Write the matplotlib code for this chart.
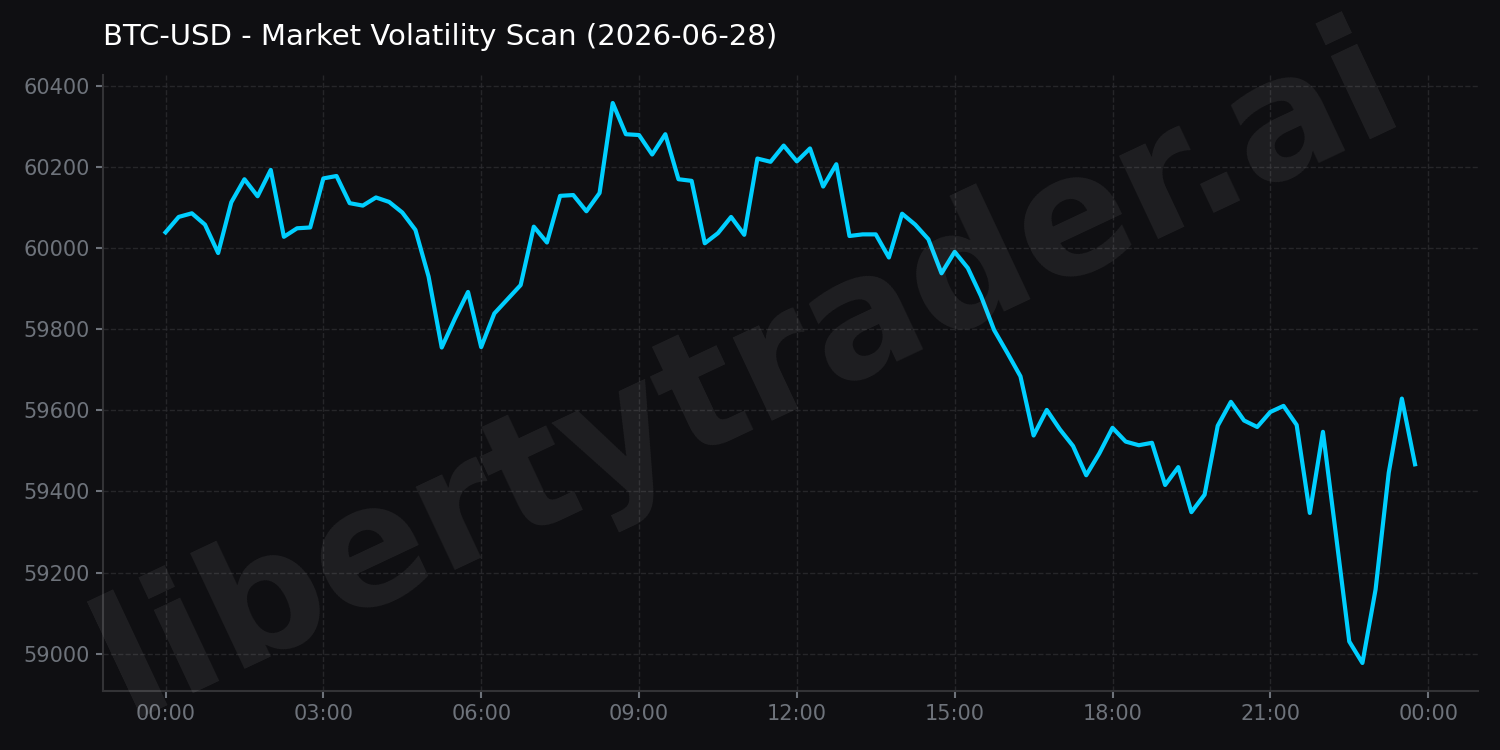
import matplotlib
matplotlib.use("Agg")
import matplotlib.pyplot as plt
import matplotlib.dates as mdates
import pandas as pd

# BTC-USD, 15 minute closes for 2026-06-28
start = "2026-06-28 00:00"
n_points = 96
prices = [
    60039, 60077, 60086, 60058, 59988, 60113, 60170, 60128, 60193, 60028,
    60049, 60051, 60172, 60178, 60111, 60105, 60125, 60114, 60088, 60045,
    59930, 59755, 59826, 59892, 59756, 59839, 59874, 59909, 60053, 60014,
    60129, 60131, 60091, 60136, 60358, 60281, 60279, 60231, 60281, 60170,
    60166, 60012, 60037, 60077, 60033, 60221, 60213, 60253, 60214, 60246,
    60152, 60207, 60030, 60034, 60034, 59977, 60085, 60058, 60022, 59938,
    59991, 59951, 59882, 59798, 59742, 59684, 59538, 59601, 59553, 59512,
    59440, 59494, 59557, 59523, 59514, 59520, 59416, 59460, 59349, 59392,
    59562, 59621, 59575, 59559, 59596, 59611, 59564, 59347, 59547, 59290,
    59030, 58977, 59158, 59446, 59629, 59467,
]
title = "BTC-USD - Market Volatility Scan (2026-06-28)"
watermark = "libertytrader.ai"

bg = "#0f0f12"
line_color = "#00cfff"
tick_color = "#6e737b"
spine_color = "#333336"

times = pd.date_range(start, periods=n_points, freq="15min")

fig, ax = plt.subplots(figsize=(12, 6), dpi=125)
fig.patch.set_facecolor(bg)
ax.set_facecolor(bg)
fig.subplots_adjust(left=0.0687, right=0.985, top=0.9, bottom=0.0787)

# watermark behind everything
fig.text(0.499, 0.5, watermark, fontsize=96, fontweight="bold", color="white",
         alpha=0.07, rotation=25.2, ha="center", va="center", zorder=0)

ax.plot(times, prices, color=line_color, linewidth=2.4, zorder=3)

ax.xaxis.set_major_locator(mdates.HourLocator(byhour=range(0, 24, 3)))
ax.xaxis.set_major_formatter(mdates.DateFormatter("%H:%M"))

ax.grid(True, color="#2c2c30", linestyle="--", linewidth=0.8, alpha=0.8)
for side in ["top", "right"]:
    ax.spines[side].set_visible(False)
for side in ["left", "bottom"]:
    ax.spines[side].set_color(spine_color)
    ax.spines[side].set_linewidth(1.2)
ax.tick_params(colors=tick_color, labelsize=12, length=4, width=1.2)
ax.tick_params(axis="both", color=tick_color)

ax.set_title(title, loc="left", color="white", fontsize=16.8, pad=17)

fig.savefig("out.png", facecolor=bg)
